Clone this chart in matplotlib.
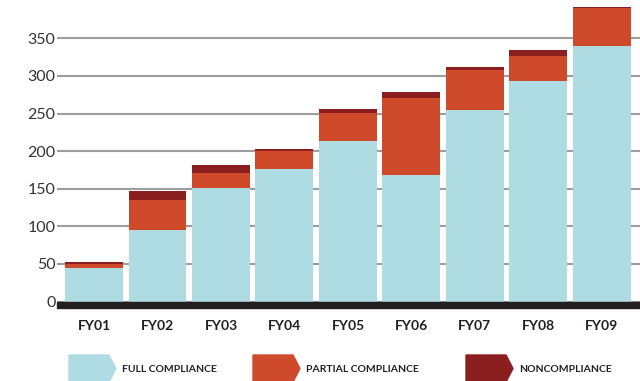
import matplotlib
matplotlib.use('Agg')
import matplotlib.pyplot as plt
from matplotlib.patches import Polygon, Rectangle
import numpy as np

plt.rcParams['font.family'] = ['Lato', 'DejaVu Sans']

years = ['FY01', 'FY02', 'FY03', 'FY04', 'FY05', 'FY06', 'FY07', 'FY08', 'FY09']
full = [44, 95, 151, 176, 214, 168, 255, 293, 340]
partial = [6, 40, 20, 24, 37, 103, 53, 33, 50]
noncompliance = [3, 12, 11, 3, 5, 7, 4, 8, 2]
legend_labels = ['FULL COMPLIANCE', 'PARTIAL COMPLIANCE', 'NONCOMPLIANCE']

c_full = '#aedce2'
c_partial = '#cf4a2a'
c_non = '#8b1e1e'

W, H = 640, 381
fig = plt.figure(figsize=(W / 100, H / 100), dpi=100)


def fx(px):
    return px / W


def fy(py):
    return (H - py) / H


# plot area: left edge at x=57, baseline at y=301.5 (pixels from top)
ax = fig.add_axes([fx(57), fy(301.5), fx(W - 57), (301.5) / H])

x = np.arange(len(years))
full = np.array(full)
partial = np.array(partial)
noncompliance = np.array(noncompliance)
bw = 0.913
ax.bar(x, full, width=bw, color=c_full, zorder=3)
ax.bar(x, partial, width=bw, bottom=full, color=c_partial, zorder=3)
ax.bar(x, noncompliance, width=bw, bottom=full + partial, color=c_non, zorder=3)

ax.set_xlim(-0.583, 8.6)
ax.set_ylim(0, 401)
ax.set_yticks(range(0, 351, 50))
ax.set_xticks(x)
ax.set_xticklabels(years, fontsize=10, fontweight='bold', color='#231f20')
ax.tick_params(axis='x', length=0, pad=13.5)
ax.tick_params(axis='y', length=0, pad=1, labelsize=11.5, labelcolor='#333333')
ax.grid(axis='y', color='#9d9d9d', linewidth=1.5, zorder=0)
for s in ax.spines.values():
    s.set_visible(False)

# heavy baseline under the bars
fig.add_artist(Rectangle((fx(57), fy(308)), fx(W - 57), fy(301.5) - fy(308),
                         transform=fig.transFigure, color='#231f20', zorder=5))

# arrow-shaped legend keys
keys = [(69, c_full), (253, c_partial), (466, c_non)]
for (left, col), label in zip(keys, legend_labels):
    top, bot, mid = 355, 382, 368.5
    flat, tip = left + 40, left + 47
    pts = [(fx(left), fy(top)), (fx(flat), fy(top)), (fx(tip), fy(mid)),
           (fx(flat), fy(bot)), (fx(left), fy(bot))]
    fig.add_artist(Polygon(pts, closed=True, transform=fig.transFigure,
                           color=col, zorder=5))
    fig.text(fx(tip + 6), fy(369), label, fontsize=7.5, fontweight='bold',
             color='#231f20', va='center', ha='left')

fig.savefig('out.png', dpi=100)
